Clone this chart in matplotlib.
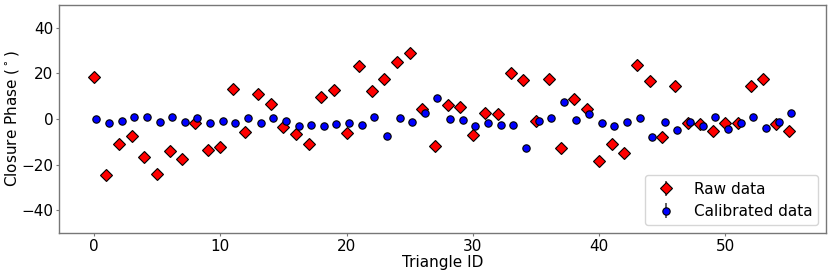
import numpy as np
import matplotlib
matplotlib.use("Agg")
import matplotlib.pyplot as plt

triangle_id = np.arange(56)

raw_phase = [18.4, -24.7, -11.0, -7.3, -16.7, -24.0, -14.2, -17.7, -2.0, -13.7,
             -12.4, 13.3, -5.7, 11.0, 6.4, -3.5, -6.4, -11.1, 9.8, 12.6,
             -6.3, 23.4, 12.4, 17.5, 24.9, 28.8, 4.4, -11.8, 5.9, 5.3,
             -7.0, 2.4, 2.2, 20.3, 17.0, -1.0, 17.3, -12.6, 8.9, 4.4,
             -18.6, -10.8, -15.0, 23.5, 16.5, -7.9, 14.3, -1.6, -2.3, -5.4,
             -2.0, -1.6, 14.5, 17.4, -2.2, -5.4]

cal_phase = [-0.1, -2.0, -1.0, 0.9, 0.7, -1.2, 1.0, -1.2, 0.4, -1.7,
             -0.7, -2.0, 0.6, -1.8, 0.2, -0.9, -2.9, -2.5, -2.9, -2.2,
             -1.6, -2.8, 0.9, -7.3, 0.6, -1.3, 2.6, 9.2, 0.0, -0.3,
             -3.1, -1.6, -2.6, -2.6, -12.7, -1.0, 0.6, 7.3, -0.3, 2.1,
             -1.7, -3.1, -1.4, 0.2, -7.9, -1.2, -5.0, -1.4, -3.1, 0.7,
             -4.4, -1.7, 0.7, -3.8, -1.4, 2.6]

raw_err = [0.5] * 56
cal_err = [0.5] * 56

fig = plt.figure(figsize=(8.31, 2.75), dpi=100)
ax = fig.add_axes([0.071, 0.153, 0.923, 0.829])

ax.errorbar(triangle_id, raw_phase, yerr=raw_err, fmt='D', color='red',
            mec='black', mew=0.8, ms=5.8, ecolor='#444444', elinewidth=1.2,
            label='Raw data')
ax.errorbar(triangle_id + 0.2, cal_phase, yerr=cal_err, fmt='o', color='blue',
            mec='black', mew=0.8, ms=5.3, ecolor='#444444', elinewidth=1.2,
            label='Calibrated data')

ax.set_ylim(-50, 50)
ax.set_yticks([-40, -20, 0, 20, 40])
ax.set_xticks([0, 10, 20, 30, 40, 50])
ax.tick_params(labelsize=11, length=2.2, pad=2, color='#777777')
ax.set_xlabel('Triangle ID', fontsize=11, labelpad=1)
ax.set_ylabel(r'Closure Phase ($^\circ$)', fontsize=11, labelpad=0)
for s in ax.spines.values():
    s.set_color('#777777')
    s.set_linewidth(1.0)
ax.legend(loc='lower right', fontsize=11, borderaxespad=0.5)

fig.savefig('out.png', dpi=100)
